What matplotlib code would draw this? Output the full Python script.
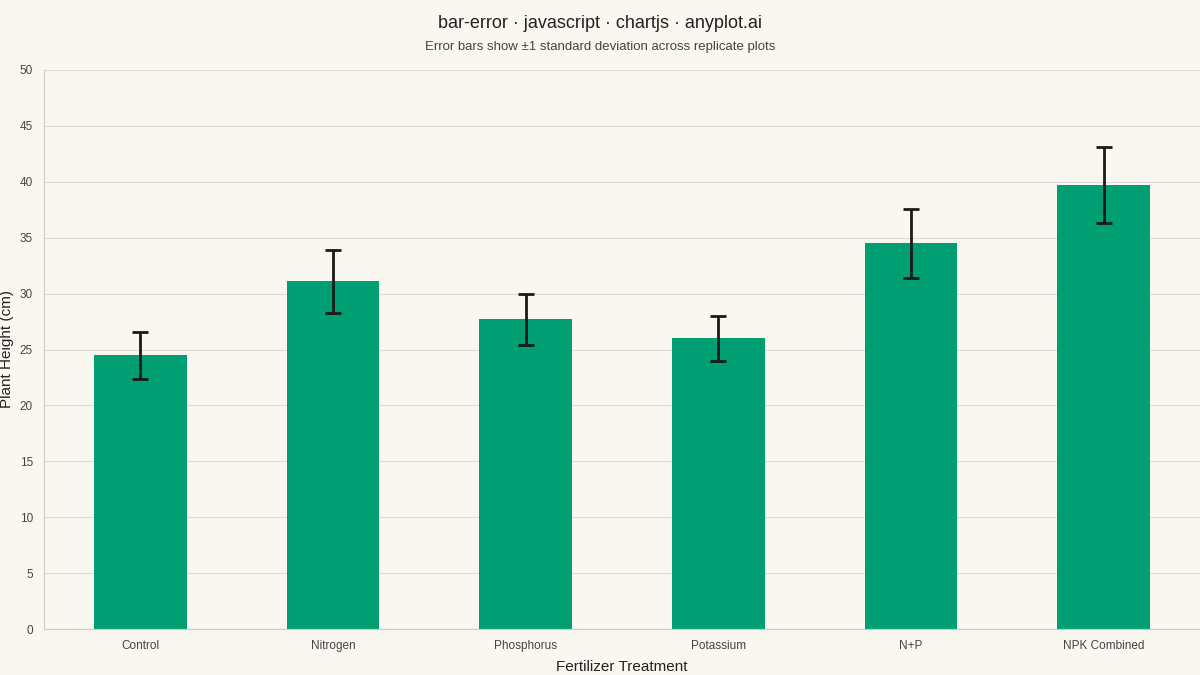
import matplotlib
matplotlib.use("Agg")
import matplotlib.pyplot as plt

categories = ["Control", "Nitrogen", "Phosphorus", "Potassium", "N+P", "NPK Combined"]
means = [24.5, 31.1, 27.7, 26.0, 34.5, 39.7]
sds = [2.1, 2.8, 2.3, 2.0, 3.1, 3.4]

plt.rcParams['font.family'] = ['Liberation Sans', 'DejaVu Sans']
bg = "#FAF7F1"
fig = plt.figure(figsize=(12, 6.75), dpi=100, facecolor=bg)
ax = fig.add_axes([44/1200, 1-629/675, 1156/1200, 559/675], facecolor=bg)
x = range(len(categories))
ax.bar(x, means, width=0.48, color="#009E73", zorder=2)
ax.errorbar(x, means, yerr=sds, fmt="none", ecolor="#1a1a1a", elinewidth=2, capsize=6, capthick=2, zorder=3)
ax.set_xlim(-0.5, len(categories) - 0.5)
ax.set_ylim(0, 50)
ax.set_yticks(range(0, 51, 5))
ax.set_xticks(list(x))
ax.set_xticklabels(categories)
ax.grid(axis="y", color="#dcdcdc", linewidth=0.8, zorder=0)
ax.tick_params(length=0, labelsize=8.5, colors="#444444", pad=8)
for s in ["top", "right"]:
    ax.spines[s].set_visible(False)
for s in ["left", "bottom"]:
    ax.spines[s].set_color("#cccccc")
ax.set_xlabel("Fertilizer Treatment", fontsize=11, color="#222222", labelpad=6)
ax.set_ylabel("Plant Height (cm)", fontsize=11, color="#222222", labelpad=4)
fig.text(0.5, 1-24/675, "bar-error · javascript · chartjs · anyplot.ai", ha="center", va="center", fontsize=13, color="#222222")
fig.text(0.5, 1-47/675, "Error bars show ±1 standard deviation across replicate plots", ha="center", va="center", fontsize=9.5, color="#444444")
fig.savefig("out.png", dpi=100, facecolor=bg)
